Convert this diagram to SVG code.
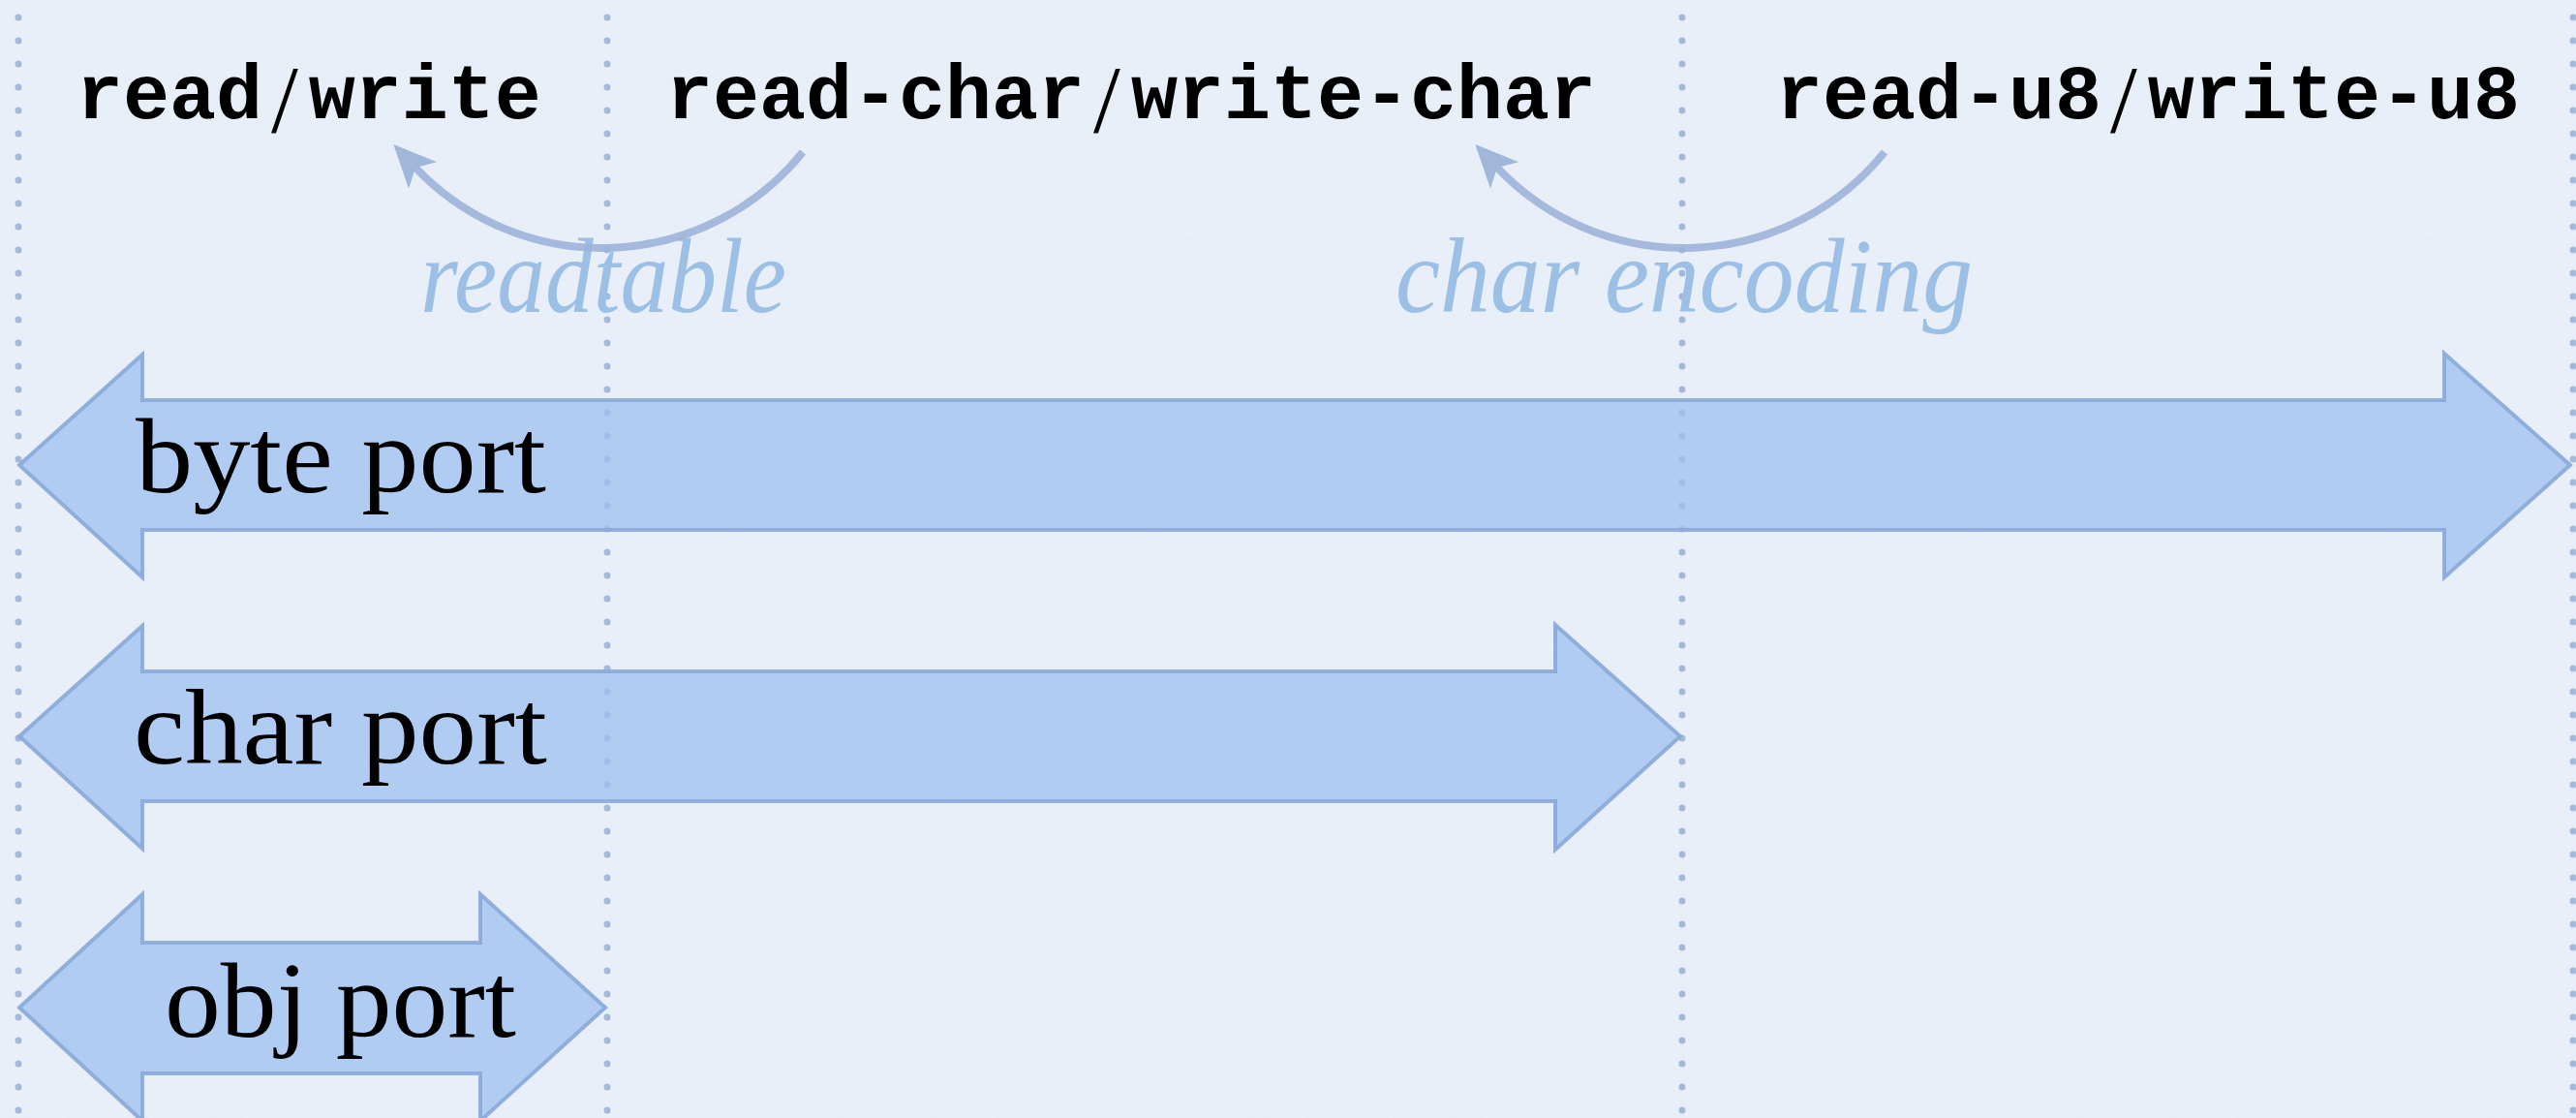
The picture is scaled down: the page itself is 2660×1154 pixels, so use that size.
<svg xmlns="http://www.w3.org/2000/svg" width="2660" height="1154" viewBox="0 0 2660 1154">
  <style>
    .bg { fill: #e7eef8; }
    .guide { stroke: #a3b8db; stroke-width: 7; stroke-linecap: round; stroke-dasharray: 0 24; fill: none; }
    .port { fill: #9ec0f0; fill-opacity: 0.75; stroke: #8aa8d8; stroke-opacity: 0.9; stroke-width: 4; stroke-linejoin: miter; }
    .port-label { font-family: "Liberation Serif", "Times New Roman", serif; font-size: 110px; fill: #000; }
    .api { font-family: "Liberation Mono", "Courier New", monospace; font-weight: bold; font-size: 80px; fill: #000; }
    .api .sep { font-family: "Liberation Serif", "Times New Roman", serif; font-weight: normal; font-size: 100px; }
    .conv { font-family: "Liberation Serif", "Times New Roman", serif; font-style: italic; font-size: 110px; fill: #9cbfe6; }
    .link { fill: none; stroke: #9cb3d8; stroke-opacity: 0.9; stroke-width: 8; }
  </style>
  <defs>
    <filter id="paper" x="0" y="0" width="100%" height="100%">
      <feTurbulence type="fractalNoise" baseFrequency="0.6 0.2" numOctaves="3" seed="7" result="n"/>
      <feColorMatrix in="n" type="matrix" values="0 0 0 0 1  0 0 0 0 1  0 0 0 0 1  0 0 0 0.9 -0.35"/>
    </filter>
    <marker id="head" markerUnits="userSpaceOnUse" markerWidth="46" markerHeight="42" viewBox="0 0 46 42" refX="11" refY="21" orient="auto">
      <path d="M0,1 L44,21 L0,41 L11,21 Z" fill="#9cb3d8" fill-opacity="0.95"/>
    </marker>
  </defs>

  <!-- paper background -->
  <rect class="bg" x="0" y="0" width="2660" height="1154"/>
  <rect x="0" y="0" width="2660" height="1154" filter="url(#paper)" opacity="0.35"/>

  <!-- dotted column guides -->
  <g id="guides">
    <line class="guide" x1="19" y1="18" x2="19" y2="1160"/>
    <line class="guide" x1="627" y1="18" x2="627" y2="1160"/>
    <line class="guide" x1="1737" y1="18" x2="1737" y2="1160"/>
    <line class="guide" x1="2657" y1="18" x2="2657" y2="1160"/>
  </g>

  <!-- port layers -->
  <g id="byte-port">
    <polygon class="port" points="20,480 147,366 147,413 2524,413 2524,365 2654,480 2524,596 2524,547 147,547 147,596"/>
    <text class="port-label" x="140" y="508" textLength="424" lengthAdjust="spacingAndGlyphs">byte port</text>
  </g>
  <g id="char-port">
    <polygon class="port" points="20,760 147,646 147,693 1606,693 1606,645 1735,760 1606,877 1606,827 147,827 147,876"/>
    <text class="port-label" x="138" y="788" textLength="427" lengthAdjust="spacingAndGlyphs">char port</text>
  </g>
  <g id="obj-port">
    <polygon class="port" points="20,1040 147,923 147,973 496,973 496,923 625,1040 496,1157 496,1108 147,1108 147,1157"/>
    <text class="port-label" x="170" y="1070" textLength="363" lengthAdjust="spacingAndGlyphs">obj port</text>
  </g>

  <!-- operations per layer (thin serif slash between read and write) -->
  <g id="op-read-write">
    <text class="api" x="79" y="122">read<tspan class="sep" dx="9" dy="14">/</tspan><tspan dx="11" dy="-14">write</tspan></text>
  </g>
  <g id="op-read-char">
    <text class="api" x="688" y="122">read-char<tspan class="sep" dx="9" dy="14">/</tspan><tspan dx="11" dy="-14">write-char</tspan></text>
  </g>
  <g id="op-read-u8">
    <text class="api" x="1834" y="122">read-u8<tspan class="sep" dx="9" dy="14">/</tspan><tspan dx="11" dy="-14">write-u8</tspan></text>
  </g>

  <!-- conversion labels -->
  <g id="label-readtable">
    <text class="conv" x="434" y="322" textLength="378" lengthAdjust="spacingAndGlyphs">readtable</text>
  </g>
  <g id="label-encoding">
    <text class="conv" x="1441" y="322" textLength="596" lengthAdjust="spacingAndGlyphs">char encoding</text>
  </g>

  <!-- conversion connectors -->
  <g id="connectors">
    <path class="link" d="M829,157 A266,266 0 0 1 429,173" marker-end="url(#head)"/>
    <path class="link" d="M1946,157 A266,266 0 0 1 1546,173" marker-end="url(#head)"/>
  </g>
</svg>
